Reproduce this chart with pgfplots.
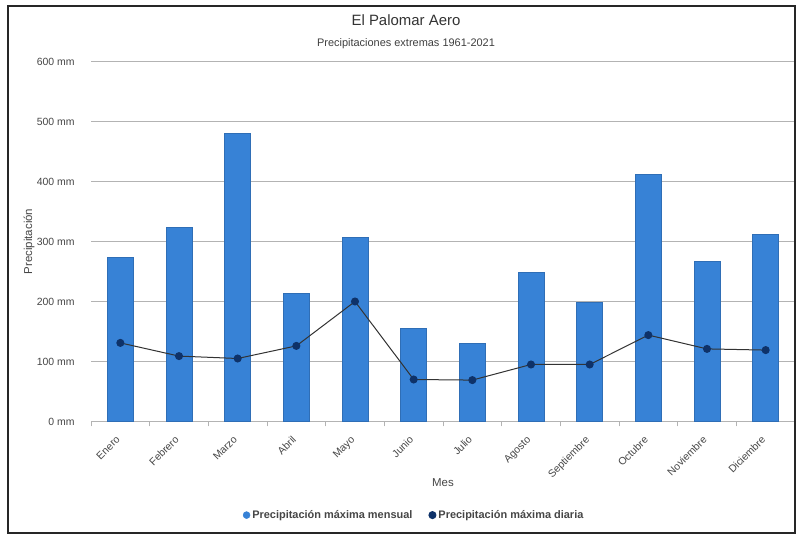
\documentclass[border=0pt]{standalone}
\usepackage{pgfplots}
\pgfplotsset{compat=1.18}
\usepackage{fontspec}
\setmainfont{Liberation Sans}

\definecolor{barblue}{RGB}{55,130,214}
\definecolor{dotnavy}{RGB}{14,50,105}
\definecolor{gridgray}{RGB}{179,179,179}
\definecolor{txtgray}{RGB}{70,70,70}

\begin{document}
\begin{tikzpicture}[x=1bp,y=1bp]
\path[use as bounding box, fill=white] (0,0) rectangle (796,538);
\begin{axis}[
  at={(91bp,116.5bp)}, anchor=south west,
  scale only axis, width=704bp, height=360bp,
  xmin=-0.5, xmax=11.5, ymin=0, ymax=600,
  axis x line=bottom, axis y line=left,
  axis line style={-},
  x axis line style={draw=gridgray, line width=1.2bp},
  y axis line style={draw=none},
  xtick={0,...,11},
  xticklabels={Enero,Febrero,Marzo,Abril,Mayo,Junio,Julio,Agosto,Septiembre,Octubre,Noviembre,Diciembre},
  minor xtick={-0.5,0.5,...,11.5},
  xtick style={draw=none},
  minor x tick style={draw=gridgray, line width=1bp},
  minor tick length=5bp,
  tick align=outside,
  ytick={0,100,...,600},
  yticklabels={0 mm,100 mm,200 mm,300 mm,400 mm,500 mm,600 mm},
  ytick style={draw=none},
  ymajorgrids,
  major grid style={gridgray, line width=1.2bp},
  tick label style={font=\fontsize{10.5}{12}\selectfont, text=txtgray},
  yticklabel style={anchor=east, inner sep=0pt, xshift=-12bp},
  xticklabel style={rotate=45, anchor=north east, inner sep=0pt, xshift=-10bp, yshift=-3bp},
  xlabel={Mes}, ylabel={Precipitación},
  every axis x label/.style={at={(axis description cs:0.5,-0.1708)}, anchor=center,
    font=\fontsize{11.5}{13}\selectfont, text=txtgray},
  every axis y label/.style={at={(axis description cs:-0.088,0.5)}, rotate=90, anchor=center,
    font=\fontsize{11.5}{13}\selectfont, text=txtgray},
  legend columns=2,
  legend style={at={(axis description cs:0.459,-0.26)}, anchor=center, draw=none, fill=none,
    font=\fontsize{11}{13}\selectfont\bfseries, text=txtgray,
    /tikz/every even column/.append style={column sep=14bp}},
]
% maximum monthly precipitation
\addplot[ybar, bar width=26bp, fill=barblue, draw=barblue!85!black, line width=0.4bp,
  legend image code/.code={\fill[barblue] (0.3em,0) circle (3.5bp);}]
  coordinates {(0,274) (1,324) (2,480) (3,214) (4,307) (5,155)
               (6,130) (7,249) (8,199) (9,412) (10,267) (11,312)};
\addlegendentry{Precipitación máxima mensual}
% maximum daily precipitation
\addplot[sharp plot, color=black!80, line width=1bp, mark=*, mark size=3.5bp,
  mark options={fill=dotnavy, draw=dotnavy},
  legend image code/.code={\fill[dotnavy] (0.3em,0) circle (3.5bp);}]
  coordinates {(0,131) (1,109) (2,105) (3,126) (4,200) (5,70)
               (6,69) (7,95) (8,95) (9,144) (10,121) (11,119)};
\addlegendentry{Precipitación máxima diaria}
\end{axis}
\node[font=\fontsize{15}{17}\selectfont, text=black!80] at (406,518) {El Palomar Aero};
\node[font=\fontsize{11}{13}\selectfont, text=black!75] at (406,494) {Precipitaciones extremas 1961-2021};
\draw[black!85, line width=1.5bp] (8,5) rectangle (795,532);
\end{tikzpicture}
\end{document}
